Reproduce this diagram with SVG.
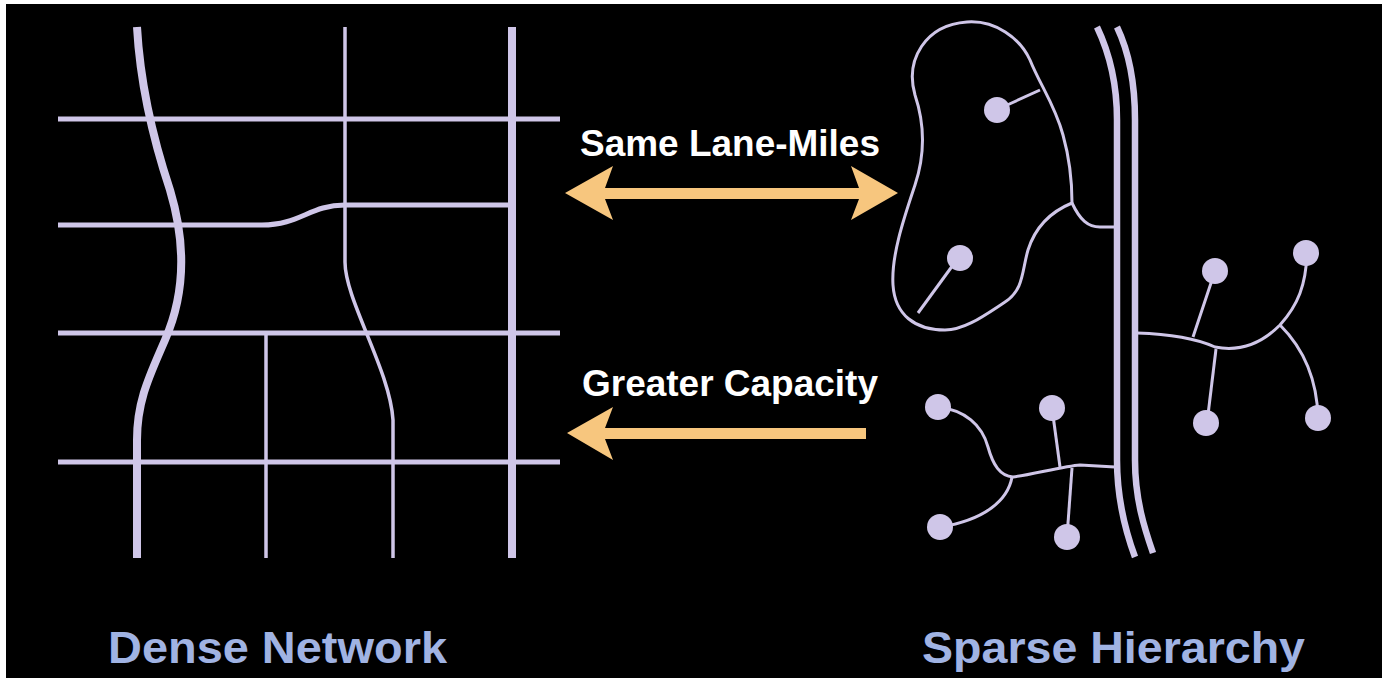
<svg xmlns="http://www.w3.org/2000/svg" width="1387" height="678" viewBox="0 0 1387 678">
<style>
.road{fill:none;stroke:#cfc6e8;stroke-linecap:butt;stroke-linejoin:round}
.thick{stroke-width:8}
.mid{stroke-width:5}
.thin{stroke-width:3.5}
.fine{stroke-width:3}
.dbl{stroke-width:6.5}
.dot{fill:#cfc6e8}
.arrow{fill:#f7c67e}
.lbl{font-family:"Liberation Sans",Arial,sans-serif;font-weight:bold;fill:#ffffff;font-size:37px}
.title{font-family:"Liberation Sans",Arial,sans-serif;font-weight:bold;fill:#a0b3e3;font-size:44px}
</style>
<rect x="0" y="0" width="1387" height="678" fill="#ffffff"/>
<rect x="6" y="4" width="1376" height="674" fill="#000000"/>

<g id="dense-network">
  <path class="road mid" d="M58,119 L560,119"/>
  <path class="road mid" d="M58,225 L262,225 C300,225 310,205 345,205 L512,205"/>
  <path class="road mid" d="M58,333 L560,333"/>
  <path class="road mid" d="M58,462 L560,462"/>
  <path class="road thick" d="M137,27 C140,80 150,130 170,190 C185,240 187,290 165,340 C150,375 137,400 137,440 L137,558"/>
  <path class="road thin" d="M266,333 L266,558"/>
  <path class="road thin" d="M345,27 L345,262 C345,300 390,370 393,420 L393,558"/>
  <path class="road thick" d="M512,27 L512,558"/>
  <text class="title" x="108" y="663" textLength="339" lengthAdjust="spacingAndGlyphs">Dense Network</text>
</g>

<g id="sparse-hierarchy">
  <path class="road dbl" d="M1097,27 C1108,50 1117,80 1117,120 L1117,460 C1117,500 1125,530 1135,557"/>
  <path class="road dbl" d="M1117,27 C1128,50 1135,80 1135,120 L1135,460 C1135,500 1145,530 1153,553"/>
  <path class="road fine" d="M967,22 C995,20 1020,38 1030,60 C1040,85 1055,105 1063,135 C1070,160 1072,185 1072,203 C1050,212 1035,228 1028,250 C1022,270 1024,290 1005,302 C985,315 965,330 945,330 C915,330 895,315 893,285 C891,255 905,215 915,185 C925,155 925,125 915,95 C905,60 925,25 967,22 Z"/>
  <path class="road fine" d="M1072,203 C1080,220 1088,227 1100,227 L1115,227"/>
  <path class="road fine" d="M1005,106 L1040,90"/>
  <path class="road fine" d="M953,265 L918,313"/>
  <circle class="dot" cx="997" cy="110" r="13"/>
  <circle class="dot" cx="960" cy="258" r="13"/>
  <path class="road fine" d="M1137,333 C1170,334 1195,338 1215,347 C1240,352 1262,343 1280,325 C1298,305 1306,285 1307,253"/>
  <path class="road fine" d="M1280,325 C1300,345 1317,375 1318,418"/>
  <path class="road fine" d="M1215,271 L1193,337"/>
  <path class="road fine" d="M1216,349 L1207,423"/>
  <circle class="dot" cx="1215" cy="271" r="13"/>
  <circle class="dot" cx="1306" cy="253" r="13"/>
  <circle class="dot" cx="1206" cy="423" r="13"/>
  <circle class="dot" cx="1318" cy="418" r="13"/>
  <path class="road fine" d="M1115,467 L1080,465 C1065,466 1030,475 1013,477 C1000,476 993,465 988,447 C982,425 965,410 938,407"/>
  <path class="road fine" d="M1012,477 C1008,500 985,520 940,527"/>
  <path class="road fine" d="M1060,467 L1052,408"/>
  <path class="road fine" d="M1072,468 L1067,537"/>
  <circle class="dot" cx="938" cy="407" r="13"/>
  <circle class="dot" cx="1052" cy="408" r="13"/>
  <circle class="dot" cx="940" cy="527" r="13"/>
  <circle class="dot" cx="1067" cy="537" r="13"/>
  <text class="title" x="922" y="663" textLength="383" lengthAdjust="spacingAndGlyphs">Sparse Hierarchy</text>
</g>

<g id="connectors">
  <g id="same-lane-miles">
    <path class="arrow" d="M565,193 L613,166 L605,188 L859,188 L851,166 L898,193 L851,220 L859,199 L605,199 L613,220 Z"/>
    <text class="lbl" x="580" y="156" textLength="300" lengthAdjust="spacingAndGlyphs">Same Lane-Miles</text>
  </g>
  <g id="greater-capacity">
    <path class="arrow" d="M567,433 L613,407 L605,428 L866,428 L866,439 L605,439 L613,460 Z"/>
    <text class="lbl" x="582" y="396" textLength="296" lengthAdjust="spacingAndGlyphs">Greater Capacity</text>
  </g>
</g>
</svg>
